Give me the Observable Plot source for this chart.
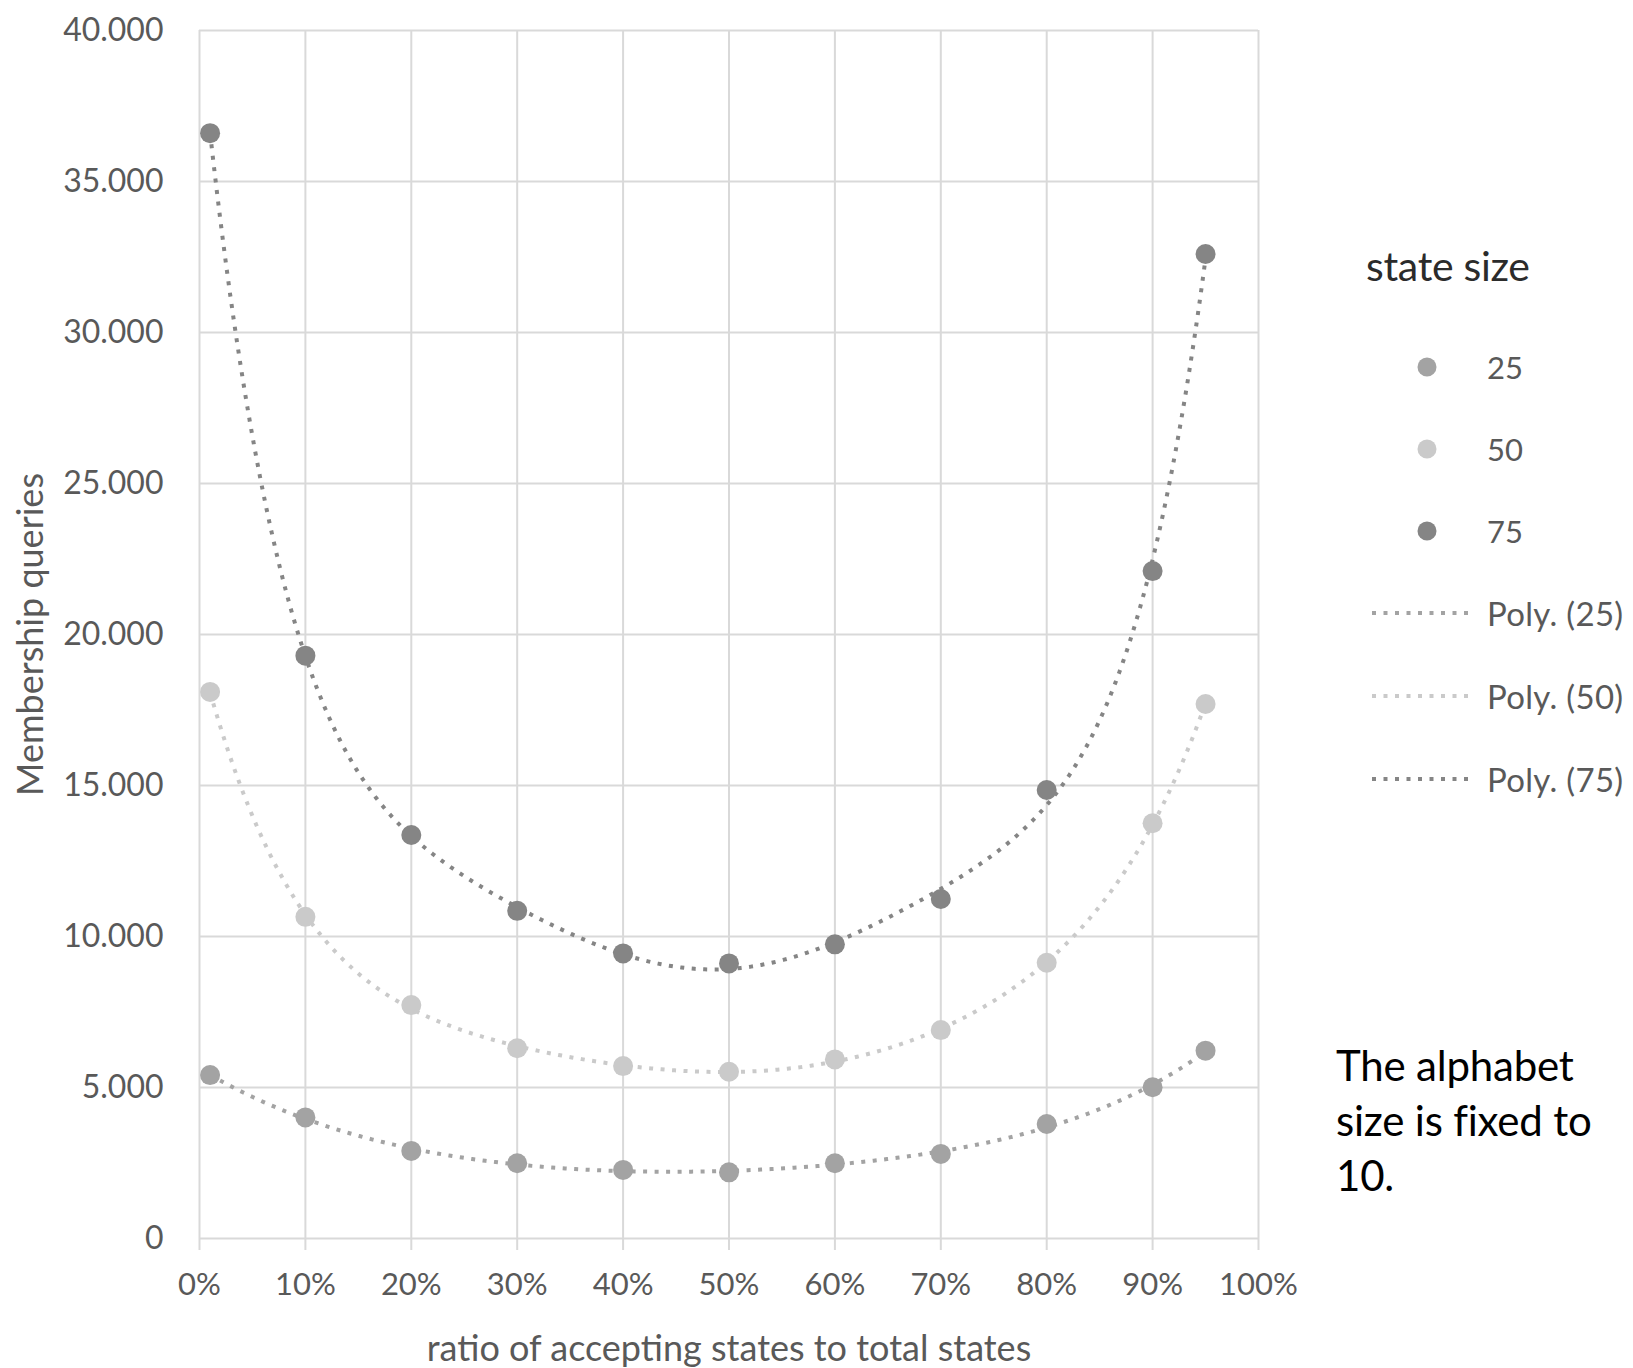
<!DOCTYPE html>
<html>
<head>
<meta charset="utf-8">
<script src="https://cdn.jsdelivr.net/npm/d3@7"></script>
<script src="https://cdn.jsdelivr.net/npm/@observablehq/plot@0.6"></script>
<style>
  html, body { margin: 0; padding: 0; background: #fff; }
  #wrap { position: relative; width: 1633px; height: 1368px; font-family: Lato, "Open Sans", sans-serif; }
  #legend { position: absolute; left: 1366px; top: 238px; }
  .ltitle { font-size: 41px; color: #2b2b2b; height: 56px; line-height: 56px; letter-spacing: -0.3px; }
  .litem { position: absolute; left: 0; display: flex; align-items: center; font-size: 31px; color: #595959; white-space: nowrap; }
  .litem.poly { font-size: 33px; letter-spacing: 0.3px; }
  .litem svg { display: block; }
  #note { position: absolute; left: 1336px; top: 1038px; font-size: 42px; line-height: 55px; color: #000; letter-spacing: -0.2px; }
</style>
</head>
<body>
<div id="wrap">
  <div id="chart"></div>
  <div id="legend"></div>
  <div id="note">The alphabet<br>size is fixed to<br>10.</div>
</div>
<script>
// ---- data ----
const ratios = [0.01, 0.1, 0.2, 0.3, 0.4, 0.5, 0.6, 0.7, 0.8, 0.9, 0.95];
const size25 = [5410, 4010, 2900, 2490, 2270, 2190, 2490, 2800, 3790, 5010, 6220];
const size50 = [18100, 10650, 7730, 6300, 5710, 5520, 5930, 6900, 9130, 13750, 17700];
const size75 = [36600, 19300, 13360, 10850, 9440, 9110, 9740, 11240, 14850, 22100, 32600];
const seriesNames = ["25", "50", "75"];
const seriesColors = ["#a3a3a3", "#cacaca", "#858585"];
const yTicks = [0, 5000, 10000, 15000, 20000, 25000, 30000, 35000, 40000];
const xTicks = [0, 0.1, 0.2, 0.3, 0.4, 0.5, 0.6, 0.7, 0.8, 0.9, 1];
const xTitle = "ratio of accepting states to total states";
const yTitle = "Membership queries";
const legendTitle = "state size";

const allSeries = [size25, size50, size75];
const points = [];
allSeries.forEach((vals, i) => vals.forEach((v, j) => points.push({ratio: ratios[j], value: v, size: seriesNames[i]})));

// polynomial (order 6) least-squares trendline, as in the original spreadsheet
function polyfit(xs, ys, deg) {
  const n = deg + 1;
  const t = xs.map(x => 2 * x - 1);
  const A = Array.from({length: n}, () => new Array(n + 1).fill(0));
  for (let k = 0; k < xs.length; k++) {
    for (let r = 0; r < n; r++) {
      for (let c = 0; c < n; c++) A[r][c] += Math.pow(t[k], r + c);
      A[r][n] += ys[k] * Math.pow(t[k], r);
    }
  }
  for (let i = 0; i < n; i++) {
    let p = i;
    for (let r = i + 1; r < n; r++) if (Math.abs(A[r][i]) > Math.abs(A[p][i])) p = r;
    [A[i], A[p]] = [A[p], A[i]];
    for (let r = 0; r < n; r++) {
      if (r === i) continue;
      const f = A[r][i] / A[i][i];
      for (let c = i; c <= n; c++) A[r][c] -= f * A[i][c];
    }
  }
  const coef = A.map((row, i) => row[n] / row[i]);
  return x => { const tt = 2 * x - 1; return coef.reduce((s, c, i) => s + c * Math.pow(tt, i), 0); };
}
const trend = [];
allSeries.forEach((vals, i) => {
  const f = polyfit(ratios, vals, 6);
  const x0 = ratios[0], x1 = ratios[ratios.length - 1];
  for (let k = 0; k <= 300; k++) {
    const x = x0 + (x1 - x0) * k / 300;
    trend.push({ratio: x, value: f(x), size: seriesNames[i]});
  }
});

const euro = d3.formatLocale({decimal: ",", thousands: ".", grouping: [3], currency: ["", ""]});
const fmtY = euro.format(",d");
const fmtX = d3.format(".0%");
const grid = "#d9d9d9";

const chart = Plot.plot({
  width: 1633,
  height: 1368,
  marginLeft: 199,
  marginRight: 375,
  marginTop: 30,
  marginBottom: 130,
  style: {fontFamily: "Lato, 'Open Sans', sans-serif", background: "#fff"},
  x: {domain: [0, 1]},
  y: {domain: [0, 40000]},
  color: {domain: seriesNames, range: seriesColors},
  marks: [
    Plot.gridX(xTicks, {stroke: grid, strokeOpacity: 1, strokeWidth: 2}),
    Plot.gridY(yTicks, {stroke: grid, strokeOpacity: 1, strokeWidth: 2}),
    Plot.axisX(xTicks, {tickFormat: fmtX, tickSize: 12, tickPadding: 22, stroke: grid, strokeWidth: 2, fontSize: 31, fill: "#595959", label: null}),
    Plot.axisY(yTicks, {tickFormat: fmtY, tickSize: 0, tickPadding: 36, fontSize: 32, fill: "#595959", label: null}),
    Plot.text([xTitle], {frameAnchor: "bottom", dy: 122, fontSize: 36, fill: "#595959", textAnchor: "middle", letterSpacing: "0.4px"}),
    Plot.text([yTitle], {frameAnchor: "left", dx: -168, rotate: -90, textAnchor: "middle", fontSize: 36, fill: "#595959", letterSpacing: "0.6px"}),
    Plot.line(trend, {x: "ratio", y: "value", z: "size", stroke: "size", strokeWidth: 4, strokeDasharray: "4 7.5", strokeLinecap: "butt"}),
    Plot.dot(points, {x: "ratio", y: "value", fill: "size", r: 10})
  ]
});
document.getElementById("chart").appendChild(chart);

// legend (HTML, outside the plot frame)
const legend = document.getElementById("legend");
const t = document.createElement("div");
t.className = "ltitle";
t.textContent = legendTitle;
legend.appendChild(t);
const ns = "http://www.w3.org/2000/svg";
seriesNames.forEach((name, i) => {
  const d = document.createElement("div");
  d.className = "litem";
  d.style.top = (110 + i * 82) + "px";
  const s = document.createElementNS(ns, "svg");
  s.setAttribute("width", 121); s.setAttribute("height", 24);
  const c = document.createElementNS(ns, "circle");
  c.setAttribute("cx", 61); c.setAttribute("cy", 12); c.setAttribute("r", 9.5); c.setAttribute("fill", seriesColors[i]);
  s.appendChild(c); d.appendChild(s);
  const l = document.createElement("span"); l.textContent = name; d.appendChild(l);
  legend.appendChild(d);
});
seriesNames.forEach((name, i) => {
  const d = document.createElement("div");
  d.className = "litem poly";
  d.style.top = (355 + i * 83) + "px";
  const s = document.createElementNS(ns, "svg");
  s.setAttribute("width", 121); s.setAttribute("height", 24);
  const ln = document.createElementNS(ns, "line");
  ln.setAttribute("x1", 6); ln.setAttribute("x2", 108); ln.setAttribute("y1", 12); ln.setAttribute("y2", 12);
  ln.setAttribute("stroke", seriesColors[i]); ln.setAttribute("stroke-width", 4); ln.setAttribute("stroke-dasharray", "4 7.5");
  s.appendChild(ln); d.appendChild(s);
  const l = document.createElement("span"); l.textContent = "Poly. (" + name + ")"; d.appendChild(l);
  legend.appendChild(d);
});
</script>
</body>
</html>
